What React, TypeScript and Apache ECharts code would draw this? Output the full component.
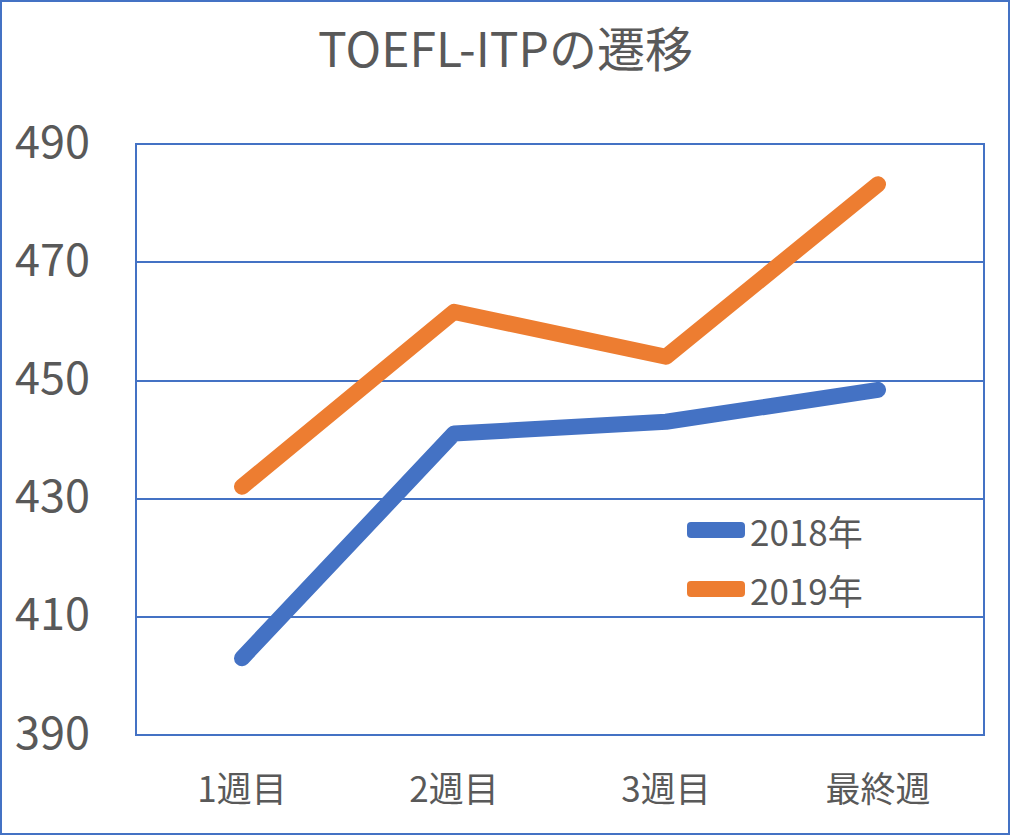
import React, { useEffect, useRef } from "react";
import * as echarts from "echarts";

const categories = ["1週目", "2週目", "3週目", "最終週"];
const series2018 = [403, 441, 443, 448.4];
const series2019 = [432, 461.6, 454, 483.2];
const seriesNames = ["2018年", "2019年"];
const yMin = 390;
const yMax = 490;
const yStep = 20;

const BLUE = "#4472C4";
const ORANGE = "#ED7D31";
const TEXT = "#595959";
const FONT = "'Noto Sans CJK JP', 'Noto Sans', sans-serif";

export default function App() {
  const ref = useRef<HTMLDivElement>(null);
  useEffect(() => {
    if (!ref.current) return;
    const chart = echarts.init(ref.current, undefined, { renderer: "svg" });
    chart.setOption({
      animation: false,
      backgroundColor: "#fff",
      textStyle: { fontFamily: FONT },
      title: {
        text: "TOEFL-ITPの遷移",
        left: "center",
        top: 17,
        textStyle: { fontSize: 48, fontWeight: "normal", color: TEXT, fontFamily: FONT },
      },
      legend: {
        orient: "vertical",
        left: 682,
        top: 503,
        itemWidth: 58,
        itemHeight: 16,
        itemGap: 15,
        icon: "roundRect",
        data: seriesNames,
        textStyle: {
          fontSize: 35,
          color: TEXT,
          fontFamily: FONT,
          lineHeight: 44,
        },
      },
      graphic: [
        {
          type: "rect",
          shape: { x: 1, y: 1, width: 1008, height: 833 },
          style: { fill: "none", stroke: BLUE, lineWidth: 2 },
          silent: true,
          z: 100,
        },
      ],
      grid: {
        left: 136,
        top: 144,
        right: 27,
        bottom: 101,
        show: true,
        borderColor: BLUE,
        borderWidth: 2,
        containLabel: false,
      },
      xAxis: {
        type: "category",
        data: categories,
        boundaryGap: true,
        axisLine: { show: false },
        axisTick: { show: false },
        axisLabel: { fontSize: 35, color: TEXT, margin: 34, fontFamily: FONT },
      },
      yAxis: {
        type: "value",
        min: yMin,
        max: yMax,
        interval: yStep,
        axisLine: { show: false },
        axisTick: { show: false },
        axisLabel: {
          color: TEXT,
          margin: 46,
          formatter: "{a|{value}}",
          rich: {
            a: {
              fontSize: 45,
              color: TEXT,
              fontFamily: FONT,
              lineHeight: 45,
              padding: [0, 0, 12, 0],
            },
          },
        },
        splitLine: { lineStyle: { color: BLUE, width: 2 } },
      },
      series: [
        {
          name: seriesNames[0],
          type: "line",
          data: series2018,
          symbol: "none",
          color: BLUE,
          lineStyle: { width: 16, color: BLUE, cap: "round", join: "round" },
        },
        {
          name: seriesNames[1],
          type: "line",
          data: series2019,
          symbol: "none",
          color: ORANGE,
          lineStyle: { width: 16, color: ORANGE, cap: "round", join: "round" },
        },
      ],
    });
    return () => chart.dispose();
  }, []);
  return (
    <div
      ref={ref}
      style={{ position: "absolute", left: 0, top: 0, width: 1011, height: 836 }}
    />
  );
}
